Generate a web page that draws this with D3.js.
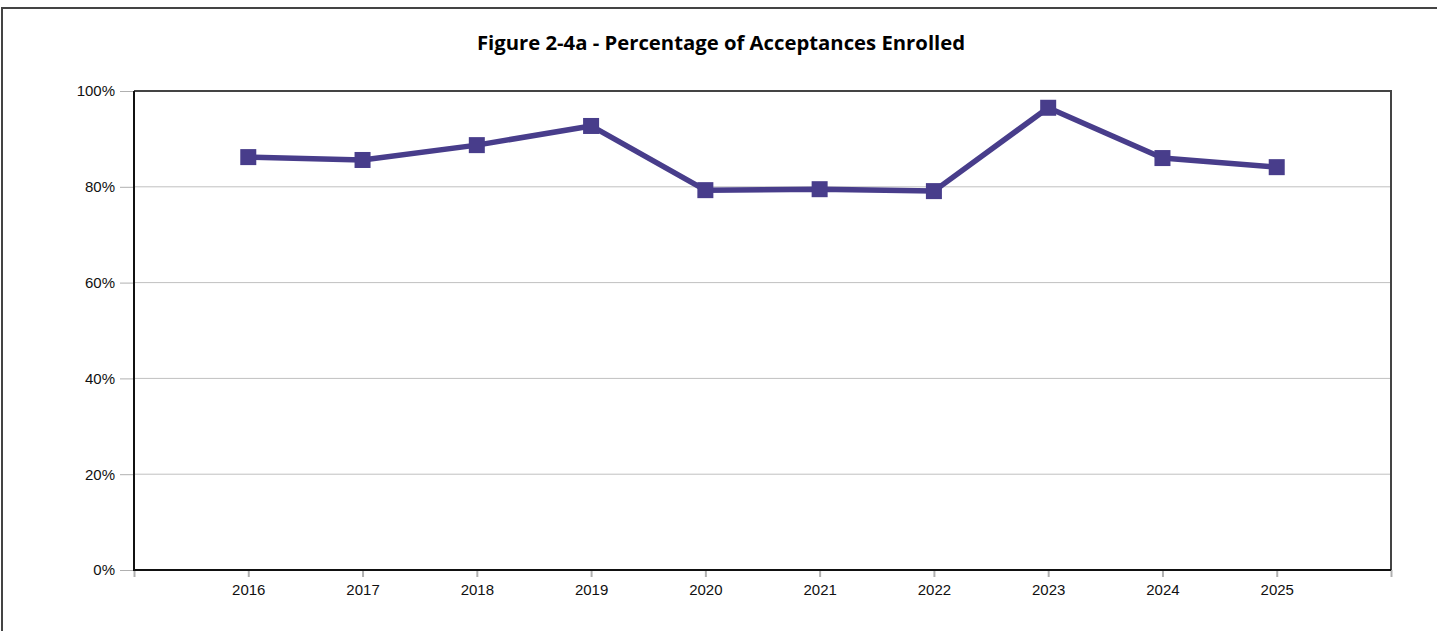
<!DOCTYPE html>
<html><head><meta charset="utf-8">
<script src="https://cdn.jsdelivr.net/npm/d3@7"></script>
<style>body{margin:0;background:#fff;}svg{display:block;}</style>
</head><body>
<script>
const categories = ["2016","2017","2018","2019","2020","2021","2022","2023","2024","2025"];
const values = [86.2, 85.6, 88.7, 92.7, 79.3, 79.5, 79.1, 96.5, 86.0, 84.1];
const yTicks = [0, 20, 40, 60, 80, 100];
const title = "Figure 2-4a - Percentage of Acceptances Enrolled";

const W = 1437, H = 631;
const m = {left:134, right:1391, top:91, bottom:570};
const svg = d3.select("body").append("svg").attr("width", W).attr("height", H);
svg.append("rect").attr("x",2).attr("y",8).attr("width",1440).attr("height",640)
  .attr("fill","#fff").attr("stroke","#444").attr("stroke-width",2);

const x = d3.scaleLinear().domain([0, categories.length + 1]).range([m.left, m.right]);
const y = d3.scaleLinear().domain([0, 100]).range([m.bottom, m.top]);

// gridlines
svg.append("g").selectAll("line").data(yTicks.filter(d => d > 0 && d < 100)).join("line")
  .attr("x1", m.left).attr("x2", m.right).attr("y1", d => y(d)).attr("y2", d => y(d))
  .attr("stroke", "#c0c0c0").attr("stroke-width", 1);

// y axis
const yAxis = d3.axisLeft(y).tickValues(yTicks).tickFormat(d => d + "%").tickSize(14).tickPadding(5);
const gy = svg.append("g").attr("transform", `translate(${m.left},0)`).call(yAxis);
gy.select(".domain").remove();
gy.selectAll(".tick line").attr("stroke", "#b0b0b0");
gy.selectAll("text").attr("font-family", "Liberation Sans, Arial, sans-serif").attr("font-size", 15).attr("fill", "#111");

// x axis
const xt = d3.range(0, categories.length + 2);
const xAxis = d3.axisBottom(x).tickValues(xt).tickFormat(i => (i >= 1 && i <= categories.length) ? categories[i-1] : "").tickSize(7).tickPadding(7);
const gx = svg.append("g").attr("transform", `translate(0,${m.bottom})`).call(xAxis);
gx.select(".domain").remove();
gx.selectAll(".tick line").attr("stroke", "#b0b0b0").attr("stroke-width", 2);
gx.selectAll("text").attr("font-family", "Liberation Sans, Arial, sans-serif").attr("font-size", 15).attr("fill", "#111");

// frame
svg.append("path").attr("d", `M${m.left},${m.top}H${m.right}V${m.bottom}`).attr("fill","none").attr("stroke","#444").attr("stroke-width",2);
svg.append("path").attr("d", `M${m.left},${m.top}V${m.bottom}H${m.right}`).attr("fill","none").attr("stroke","#111").attr("stroke-width",2);

// line
const col = "#483D8B";
const line = d3.line().x((d,i) => x(i+1)).y(d => y(d));
svg.append("path").datum(values).attr("d", line).attr("fill","none").attr("stroke", col).attr("stroke-width", 5.5).attr("stroke-linejoin","round");
svg.append("g").selectAll("rect").data(values).join("rect")
  .attr("x", (d,i) => x(i+1) - 8).attr("y", d => y(d) - 8).attr("width", 16).attr("height", 16).attr("fill", col);

// title
svg.append("text").attr("x", 721).attr("y", 50).attr("text-anchor","middle")
  .attr("font-family", "Open Sans, Noto Sans, sans-serif").attr("font-weight","bold").attr("font-size", 20.3).attr("fill","#000").text(title);
</script>
</body></html>
